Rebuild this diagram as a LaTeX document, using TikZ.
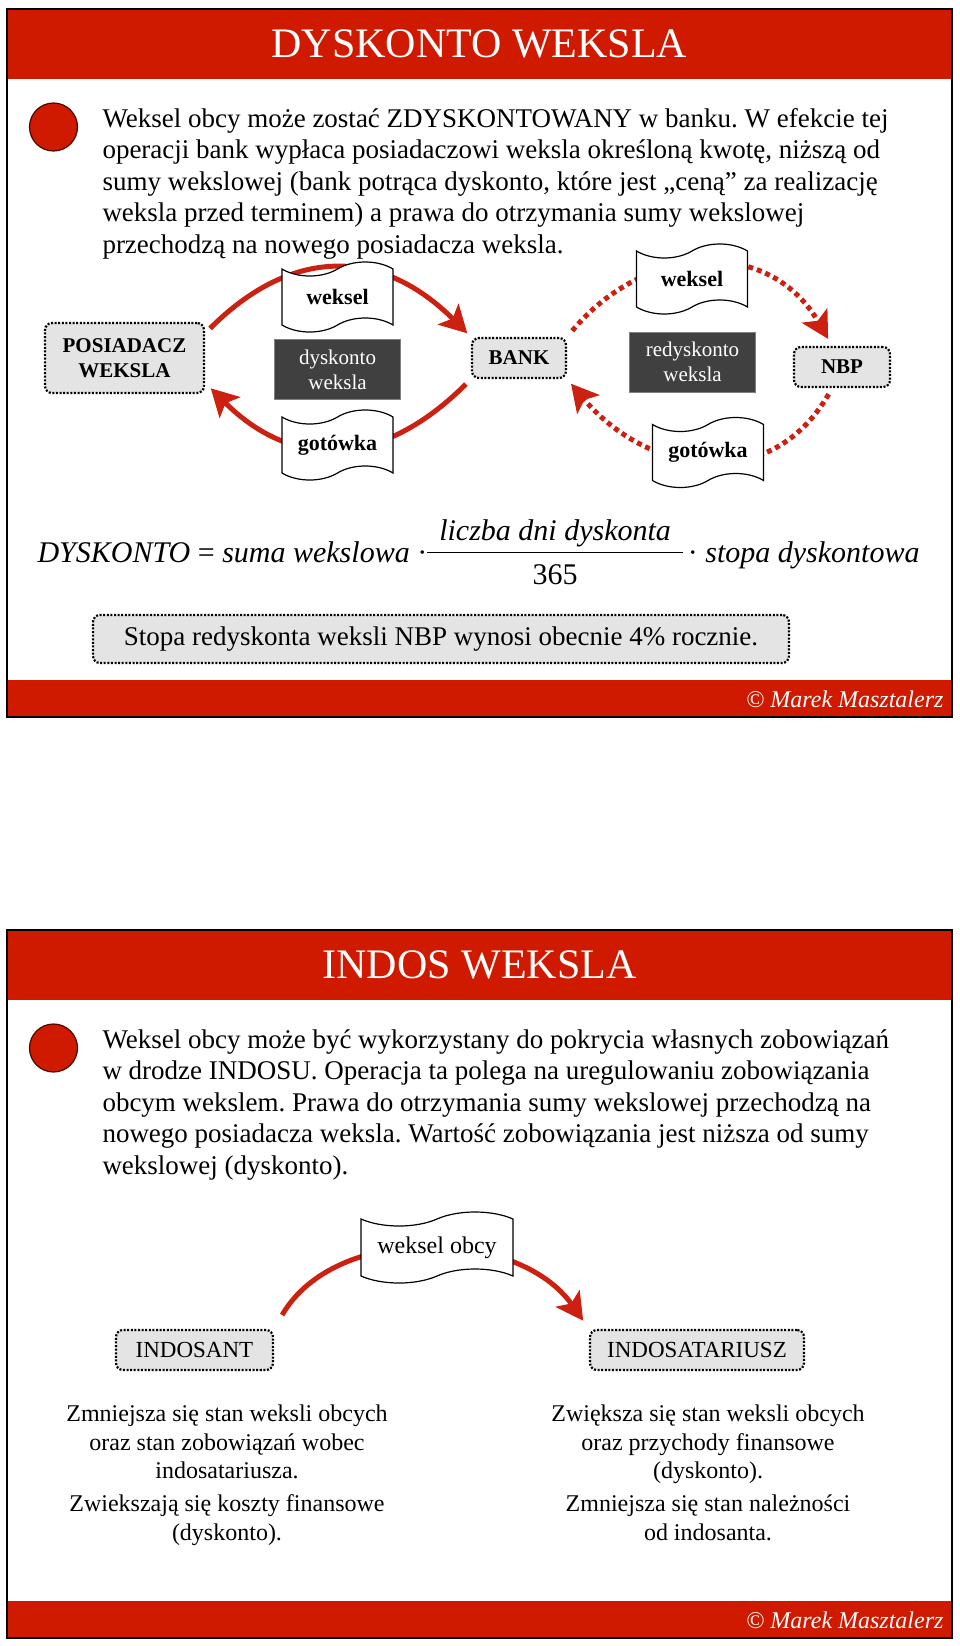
\documentclass[tikz,border=0pt]{standalone}
\usepackage{fontspec}
\setmainfont{Liberation Serif}
\frenchspacing
\usetikzlibrary{arrows.meta, shapes.symbols, positioning}
\definecolor{cred}{HTML}{D01A00}
\definecolor{carrow}{HTML}{CC2010}
\definecolor{cline}{HTML}{4A0800}
\definecolor{cgrey}{HTML}{E4E4E4}
\definecolor{cdark}{HTML}{404040}
\tikzset{
  every picture/.style={line width=1pt},
  redbar/.style={fill=cred},
  slideframe/.style={draw=black, line width=2.5pt},
  title/.style={text=white, font=\fontsize{42}{48}\selectfont},
  footer/.style={text=white, anchor=base east, inner sep=0pt, font=\fontsize{24}{28}\selectfont\itshape},
  bullet/.style={circle, fill=cred, draw=cline, line width=1.2pt, minimum size=48pt, inner sep=0pt},
  body/.style={anchor=base west, align=left, inner sep=0pt, font=\fontsize{27}{31.5}\selectfont},
  greybox/.style={draw, line width=2.2pt, dash pattern=on 2pt off 1.6pt, fill=cgrey, rounded corners=7pt, align=center, inner sep=0pt},
  who/.style={greybox, font=\fontsize{21}{25}\selectfont\bfseries},
  darkbox/.style={fill=cdark, draw=gray, line width=0.8pt, text=white, align=center, minimum width=126pt, minimum height=60pt, font=\fontsize{21}{25}\selectfont},
  banner/.style={tape, draw, fill=white, line width=1.2pt, tape bend height=14pt, minimum width=111pt, minimum height=70pt, inner sep=0pt, font=\fontsize{22}{26}\selectfont\bfseries},
  flow/.style={draw=carrow, line width=5pt, -{Stealth[length=27pt, width=29pt, inset=6pt]}, looseness=1.2},
  flowdot/.style={flow, dash pattern=on 5pt off 4pt},
  effect/.style={anchor=base, align=center, inner sep=0pt, font=\fontsize{24}{28.5}\selectfont},
}

\begin{document}
\begin{tikzpicture}[x=1pt, y=1pt]
  \useasboundingbox (0,0) rectangle (960,-1646);
  % slide 1: dyskonto weksla
  \fill[redbar] (7,-9) rectangle (952,-79);
  \fill[redbar] (7,-680) rectangle (952,-717);
  \draw[slideframe] (7,-9) rectangle (952,-717);
  \node[title] (title1) at (479.5,-44) {DYSKONTO WEKSLA};
  \node[bullet] (dot1) at (53.5,-127) {};
  \node[body] (text1) at (102,-253) {Weksel obcy może zostać ZDYSKONTOWANY w banku. W efekcie tej\\
    operacji bank wypłaca posiadaczowi weksla określoną kwotę, niższą od\\
    sumy wekslowej (bank potrąca dyskonto, które jest „ceną” za realizację\\
    weksla przed terminem) a prawa do otrzymania sumy wekslowej\\
    przechodzą na nowego posiadacza weksla.};
  \node[who, minimum width=159pt, minimum height=70pt] (posiadacz) at (124.5,-358) {POSIADACZ\\WEKSLA};
  \node[who, minimum width=94pt, minimum height=40pt] (bank) at (519,-358) {BANK};
  \node[who, minimum width=96pt, minimum height=40pt] (nbp) at (842,-367) {NBP};
  \node[darkbox] (dyskonto) at (337.5,-369.5) {dyskonto\\weksla};
  \node[darkbox] (redyskonto) at (692.5,-362) {redyskonto\\weksla};
  \draw[flow, shorten <=7pt, shorten >=5pt] (posiadacz.17) to[out=45, in=135] (bank.north west);
  \draw[flow, shorten <=7pt, shorten >=8pt] (bank.south west) to[out=-135, in=-45] (posiadacz.-17);
  \draw[flowdot, shorten <=8pt, shorten >=8pt] (bank.north east) to[out=50, in=120] (nbp.115);
  \draw[flowdot, shorten <=7pt, shorten >=6pt] (nbp.-115) to[out=-120, in=-50] (bank.south east);
  \node[banner] (weksel1) at (337.5,-297) {weksel};
  \node[banner] (gotowka1) at (337.5,-445) {gotówka};
  \node[banner] (weksel2) at (692,-279) {weksel};
  \node[banner] (gotowka2) at (708,-452.5) {gotówka};
  % formula and NBP rate
  \node[anchor=base west, inner sep=0pt, font=\fontsize{30}{36}\selectfont] (formula) at (37,-562)
    {\textit{DYSKONTO} = \textit{suma wekslowa} ·\setlength{\arrayrulewidth}{1.2pt}\begin{tabular}{@{\hspace{12pt}}c@{\hspace{12pt}}}
      \textit{liczba dni dyskonta}\\\hline\rule{0pt}{32pt}365\end{tabular}\,· \textit{stopa dyskontowa}};
  \node[greybox, minimum width=696pt, minimum height=48pt, font=\fontsize{27}{32}\selectfont] (stopa) at (441,-639)
    {Stopa redyskonta weksli NBP wynosi obecnie 4\% rocznie.};
  \node[footer] (footer1) at (944,-707) {© Marek Masztalerz};

  % slide 2: indos weksla
  \fill[redbar] (7,-930) rectangle (952,-1000);
  \fill[redbar] (7,-1601) rectangle (952,-1638);
  \draw[slideframe] (7,-930) rectangle (952,-1638);
  \node[title] (title2) at (479.5,-965) {INDOS WEKSLA};
  \node[bullet] (dot2) at (53.5,-1048) {};
  \node[body] (text2) at (102,-1174) {Weksel obcy może być wykorzystany do pokrycia własnych zobowiązań\\
    w drodze INDOSU. Operacja ta polega na uregulowaniu zobowiązania\\
    obcym wekslem. Prawa do otrzymania sumy wekslowej przechodzą na\\
    nowego posiadacza weksla. Wartość zobowiązania jest niższa od sumy\\
    wekslowej (dyskonto).};
  \node[greybox, minimum width=157pt, minimum height=40pt, font=\fontsize{23}{27}\selectfont] (indosant) at (194.5,-1350) {INDOSANT};
  \node[greybox, minimum width=214pt, minimum height=40pt, font=\fontsize{23}{27}\selectfont] (indosatariusz) at (697,-1350) {INDOSATARIUSZ};
  \draw[flow, looseness=1, shorten <=16pt, shorten >=10pt] (indosant.north east) to[out=60, in=125] (indosatariusz.north west);
  \node[banner, minimum width=152pt, minimum height=71pt, font=\fontsize{24}{28}\selectfont] (wekselobcy) at (437,-1247.5) {weksel obcy};
  \node[effect] (effect1) at (227,-1540) {Zmniejsza się stan weksli obcych\\oraz stan zobowiązań wobec\\indosatariusza.\\[4.5pt]
    Zwiekszają się koszty finansowe\\(dyskonto).};
  \node[effect] (effect2) at (708,-1540) {Zwiększa się stan weksli obcych\\oraz przychody finansowe\\(dyskonto).\\[4.5pt]
    Zmniejsza się stan należności\\od indosanta.};
  \node[footer] (footer2) at (944,-1628) {© Marek Masztalerz};
\end{tikzpicture}
\end{document}
